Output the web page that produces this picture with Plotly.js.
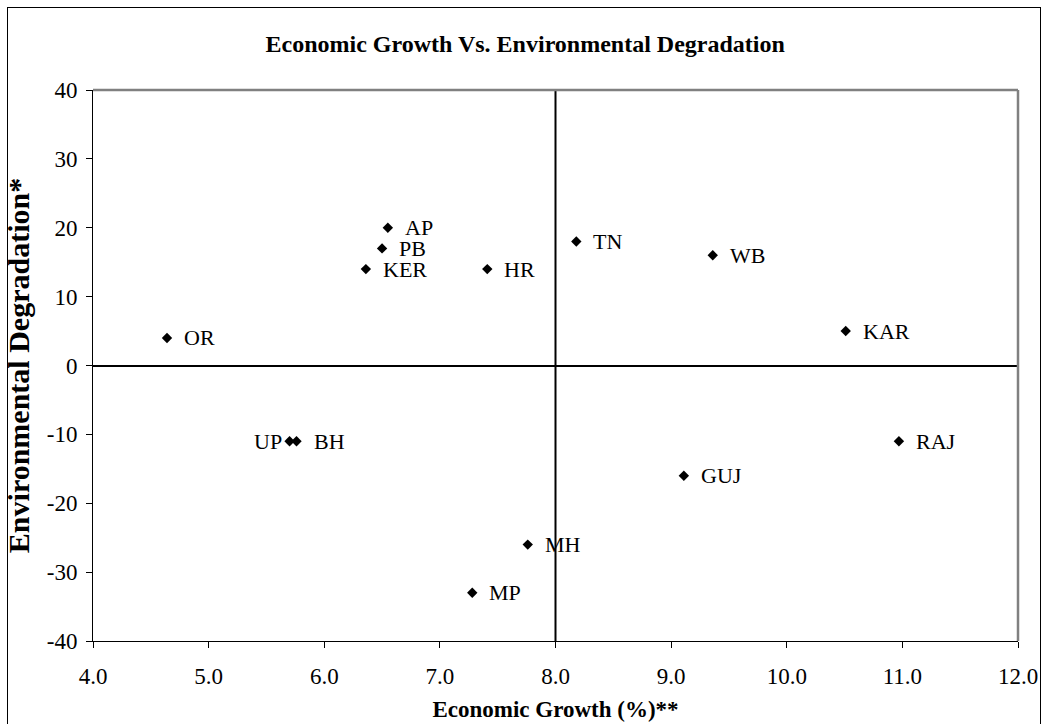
<!DOCTYPE html>
<html>
<head>
<meta charset="utf-8">
<script src="https://cdn.plot.ly/plotly-3.0.1.min.js"></script>
<style>
  html, body { margin: 0; padding: 0; background: #fff; }
  #wrap { position: relative; width: 1042px; height: 724px; }
  #chart { width: 1042px; height: 724px; }
  #frame { position: absolute; left: 7px; top: 7px; width: 1032px; height: 740px;
           border: 1.5px solid #000; pointer-events: none; }
</style>
</head>
<body>
<div id="wrap">
  <div id="chart"></div>
  <div id="frame"></div>
</div>
<script>
// Data
const states = ['AP', 'PB', 'KER', 'HR', 'TN', 'WB', 'KAR', 'OR', 'UP', 'BH', 'RAJ', 'GUJ', 'MH', 'MP'];
const growth = [6.55, 6.50, 6.36, 7.41, 8.18, 9.36, 10.51, 4.64, 5.70, 5.76, 10.97, 9.11, 7.76, 7.28];
const degradation = [20, 17, 14, 14, 18, 16, 5, 4, -11, -11, -11, -16, -26, -33];
const labelSide = ['right', 'right', 'right', 'right', 'right', 'right', 'right', 'right', 'left', 'right', 'right', 'right', 'right', 'right'];

const xTickVals = [4, 5, 6, 7, 8, 9, 10, 11, 12];
const xTickText = ['4.0', '5.0', '6.0', '7.0', '8.0', '9.0', '10.0', '11.0', '12.0'];
const yTickVals = [-40, -30, -20, -10, 0, 10, 20, 30, 40];
const yTickText = ['-40', '-30', '-20', '-10', '0', '10', '20', '30', '40'];
const xCross = 8;

const serif = 'Liberation Serif, Times New Roman, serif';

const trace = {
  type: 'scatter',
  mode: 'markers',
  x: growth,
  y: degradation,
  marker: { symbol: 'diamond', size: 8, color: '#000' },
  hoverinfo: 'x+y+text',
  text: states,
  showlegend: false
};

const annotations = states.map((s, i) => ({
  x: growth[i],
  y: degradation[i],
  xref: 'x', yref: 'y',
  text: s,
  showarrow: false,
  xanchor: labelSide[i] === 'left' ? 'right' : 'left',
  yanchor: 'middle',
  xshift: labelSide[i] === 'left' ? -6 : 15,
  font: { family: serif, size: 22, color: '#000' }
}));

const layout = {
  width: 1042,
  height: 724,
  paper_bgcolor: '#fff',
  plot_bgcolor: '#fff',
  margin: { l: 93, r: 24, t: 90, b: 83 },
  title: {
    text: '<b>Economic Growth Vs. Environmental Degradation</b>',
    font: { family: serif, size: 24, color: '#000' },
    x: 0.504, xref: 'container', xanchor: 'center',
    y: 0.94, yref: 'container', yanchor: 'middle'
  },
  xaxis: {
    range: [4, 12],
    tickvals: xTickVals,
    ticktext: xTickText,
    ticks: 'outside', ticklen: 6, tickwidth: 1, tickcolor: '#000',
    ticklabelstandoff: 8,
    showline: true, linecolor: '#000', linewidth: 1,
    showgrid: false, zeroline: false,
    tickfont: { family: serif, size: 23, color: '#000' },
    title: {
      text: '<b>Economic Growth (%)**</b>',
      font: { family: serif, size: 23, color: '#000' },
      standoff: 13
    }
  },
  yaxis: {
    range: [-40, 40],
    tickvals: yTickVals,
    ticktext: yTickText,
    ticks: 'outside', ticklen: 6, tickwidth: 1, tickcolor: '#000',
    ticklabelstandoff: 4,
    showline: true, linecolor: '#000', linewidth: 1,
    showgrid: false,
    zeroline: true, zerolinecolor: '#000', zerolinewidth: 2,
    tickfont: { family: serif, size: 23, color: '#000' },
    title: {
      text: '<b>Environmental Degradation*</b>',
      font: { family: serif, size: 30, color: '#000' },
      standoff: 8
    }
  },
  shapes: [
    { type: 'line', xref: 'x', yref: 'paper', x0: xCross, x1: xCross, y0: 0, y1: 1,
      line: { color: '#000', width: 2 } },
    { type: 'line', xref: 'paper', yref: 'paper', x0: 0, x1: 1, y0: 1, y1: 1,
      line: { color: '#808080', width: 2.5 } },
    { type: 'line', xref: 'paper', yref: 'paper', x0: 1, x1: 1, y0: 0, y1: 1,
      line: { color: '#808080', width: 2.5 } }
  ],
  annotations: annotations
};

Plotly.newPlot('chart', [trace], layout, { displayModeBar: false, staticPlot: true });
</script>
</body>
</html>
